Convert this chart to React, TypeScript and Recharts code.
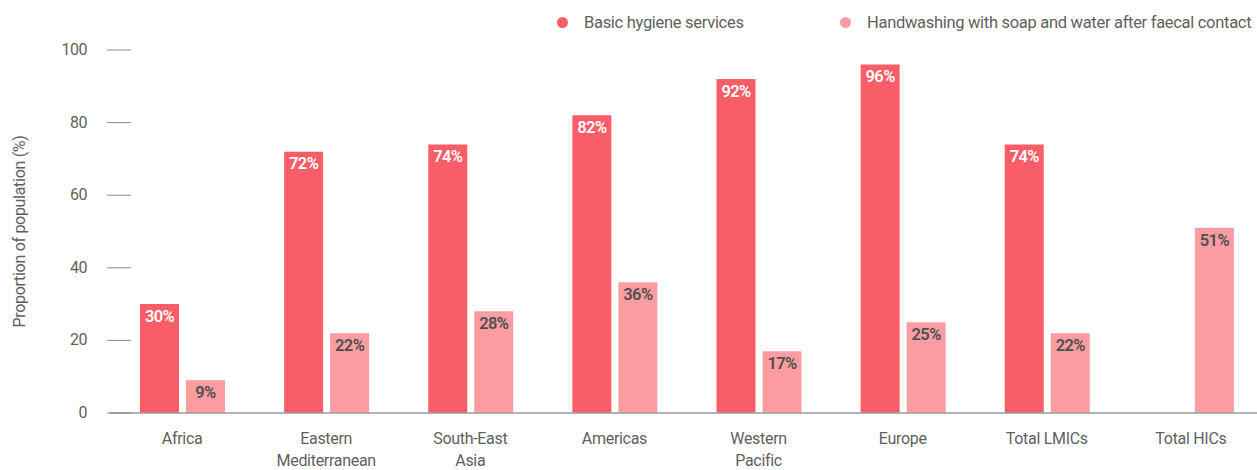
import React from 'react';
import { BarChart, Bar, XAxis, YAxis, Legend, LabelList } from 'recharts';

const regions = [
  'Africa',
  'Eastern\nMediterranean',
  'South-East\nAsia',
  'Americas',
  'Western\nPacific',
  'Europe',
  'Total LMICs',
  'Total HICs',
];
const basicHygiene: (number | null)[] = [30, 72, 74, 82, 92, 96, 74, null];
const handwashing: number[] = [9, 22, 28, 36, 17, 25, 22, 51];
const yTicks = [0, 20, 40, 60, 80, 100];

const seriesNames = ['Basic hygiene services', 'Handwashing with soap and water after faecal contact'];

const RED = '#F95E68';
const PINK = '#FD9CA1';
const TEXT = '#5f5f5f';
const FONT = 'Roboto, "Noto Sans", sans-serif';

const data = regions.map((region, i) => ({
  region,
  basic: basicHygiene[i],
  hand: handwashing[i],
}));

const XTick = (props: any) => {
  const { x, y, payload } = props;
  const lines = String(payload.value).split('\n');
  return (
    <text x={x} y={y + 31} textAnchor="middle" fill={TEXT} fontSize={16} fontFamily={FONT} letterSpacing={-0.3}>
      {lines.map((l, i) => (
        <tspan key={i} x={x} dy={i === 0 ? 0 : 22}>
          {l}
        </tspan>
      ))}
    </text>
  );
};

const YTick = (props: any) => {
  const { x, y, payload } = props;
  return (
    <g>
      <text x={x - 23} y={y} dy={5} textAnchor="end" fill={TEXT} fontSize={16} fontFamily={FONT} letterSpacing={-0.5}>
        {payload.value}
      </text>
      <line x1={x - 3} x2={x + 21} y1={y} y2={y} stroke="#8a8a8a" strokeWidth={1} />
    </g>
  );
};

const LegendContent = () => (
  <div style={{ position: 'relative', height: 24, fontFamily: FONT, fontSize: 16.5, color: TEXT, letterSpacing: -0.3 }}>
    {[RED, PINK].map((c, i) => (
      <div key={i} style={{ position: 'absolute', left: i === 0 ? 557 : 840, top: 0, display: 'flex', alignItems: 'center', height: 24 }}>
        <span style={{ width: 11, height: 11, borderRadius: '50%', background: c, display: 'inline-block', marginRight: 16 }} />
        <span>{seriesNames[i]}</span>
      </div>
    ))}
  </div>
);

const fmt = (v: any) => (v == null ? '' : `${v}%`);

export default function App() {
  return (
    <div style={{ position: 'absolute', left: 0, top: 0, width: 1257, height: 470, overflow: 'hidden', background: '#fff' }}>
      <BarChart
        width={1263}
        height={470}
        data={data}
        margin={{ top: 50, right: 0, bottom: 0, left: 0 }}
        barSize={39}
        barGap={7}
      >
        <XAxis
          dataKey="region"
          interval={0}
          height={57}
          tick={<XTick />}
          tickLine={false}
          tickSize={0}
          tickMargin={0}
          axisLine={{ stroke: '#9a9a9a', strokeWidth: 1.5 }}
        />
        <YAxis
          width={110}
          domain={[0, 100]}
          ticks={yTicks}
          tick={<YTick />}
          tickLine={false}
          axisLine={false}
          tickSize={0}
          tickMargin={0}
          label={{
            value: 'Proportion of population (%)',
            angle: -90,
            position: 'insideLeft',
            offset: 19,
            style: { textAnchor: 'middle', fill: TEXT, fontSize: 16, fontFamily: FONT, letterSpacing: -0.3 },
          }}
        />
        <Legend
          layout="horizontal"
          verticalAlign="middle"
          align="center"
          wrapperStyle={{ top: 10, left: 0, width: 1257 }}
          content={<LegendContent />}
        />
        <Bar dataKey="basic" name={seriesNames[0]} fill={RED} isAnimationActive={false}>
          <LabelList
            dataKey="basic"
            position="insideTop"
            offset={6}
            formatter={fmt}
            style={{ fill: '#fff', fontSize: 16.5, fontWeight: 600, fontFamily: FONT, letterSpacing: -0.6 }}
          />
        </Bar>
        <Bar dataKey="hand" name={seriesNames[1]} fill={PINK} isAnimationActive={false}>
          <LabelList
            dataKey="hand"
            position="insideTop"
            offset={6}
            formatter={fmt}
            style={{ fill: '#4f4f4f', fontSize: 16.5, fontWeight: 600, fontFamily: FONT, letterSpacing: -0.6 }}
          />
        </Bar>
      </BarChart>
    </div>
  );
}
